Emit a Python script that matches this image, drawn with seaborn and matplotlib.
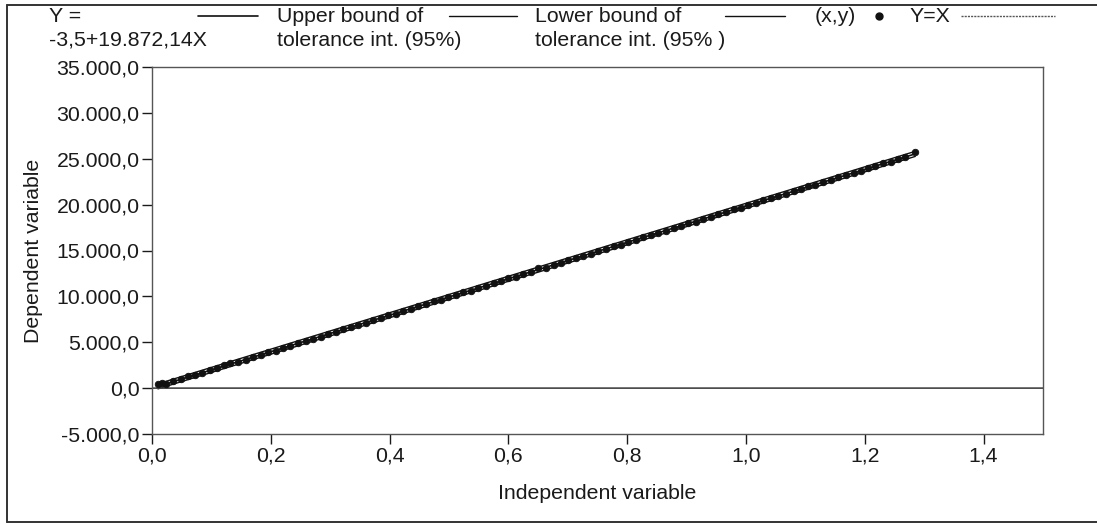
import matplotlib
matplotlib.use("Agg")
import matplotlib.pyplot as plt
import matplotlib.ticker as mticker
from matplotlib.lines import Line2D
import seaborn as sns
import pandas as pd

# ---------------- data ----------------
x_obs = [0.010, 0.016, 0.023, 0.035, 0.048, 0.061, 0.072, 0.085, 0.097, 0.110,
         0.122, 0.131, 0.145, 0.158, 0.170, 0.183, 0.196, 0.208, 0.221, 0.233,
         0.246, 0.259, 0.271, 0.284, 0.297, 0.309, 0.322, 0.335, 0.347, 0.360,
         0.372, 0.385, 0.398, 0.410, 0.423, 0.436, 0.448, 0.461, 0.474, 0.486,
         0.499, 0.511, 0.524, 0.537, 0.549, 0.562, 0.575, 0.587, 0.600, 0.612,
         0.625, 0.638, 0.650, 0.663, 0.676, 0.688, 0.701, 0.713, 0.726, 0.739,
         0.751, 0.764, 0.777, 0.789, 0.802, 0.814, 0.827, 0.840, 0.852, 0.865,
         0.878, 0.890, 0.903, 0.915, 0.928, 0.941, 0.953, 0.966, 0.979, 0.991,
         1.004, 1.016, 1.029, 1.042, 1.054, 1.067, 1.080, 1.092, 1.105, 1.117,
         1.130, 1.143, 1.155, 1.168, 1.181, 1.193, 1.206, 1.218, 1.231, 1.244,
         1.256, 1.268, 1.285]
y_obs = [480, 520, 430, 740, 1010, 1330, 1400, 1650, 1960, 2150,
         2480, 2790, 2860, 3110, 3400, 3600, 3930, 4100, 4420, 4600,
         4950, 5110, 5400, 5610, 5930, 6110, 6420, 6620, 6930, 7120,
         7420, 7610, 7940, 8120, 8440, 8630, 8930, 9120, 9450, 9630,
         9950, 10120, 10440, 10640, 10940, 11130, 11460, 11630, 11960, 12130,
         12450, 12640, 13050, 13140, 13460, 13640, 13960, 14140, 14450, 14650,
         14960, 15150, 15470, 15650, 15970, 16150, 16460, 16660, 16960, 17160,
         17470, 17660, 17970, 18150, 18470, 18670, 18960, 19170, 19480, 19660,
         19980, 20160, 20470, 20680, 20970, 21180, 21490, 21670, 21980, 22170,
         22480, 22690, 22970, 23190, 23490, 23680, 23990, 24180, 24490, 24700,
         24980, 25170, 25700]

fit_x = [0.010, 1.285]
fit_y = [195.2, 25532.2]          # Y = -3,5 + 19.872,14 X
upper_y = [470.0, 25810.0]        # upper bound of tolerance interval (95%)
lower_y = [-80.0, 25255.0]        # lower bound of tolerance interval (95%)
idx_x = [0.0, 1.5]                # Y = X reference line
idx_y = [0.0, 1.5]

legend_labels = ["Y =\n-3,5+19.872,14X",
                 "Upper bound of\ntolerance int. (95%)",
                 "Lower bound of\ntolerance int. (95% )",
                 "(x,y)",
                 "Y=X"]
x_ticks = [0.0, 0.2, 0.4, 0.6, 0.8, 1.0, 1.2, 1.4]
y_ticks = [-5000, 0, 5000, 10000, 15000, 20000, 25000, 30000, 35000]

# ---------------- style ----------------
sns.set_theme(style="white")
plt.rcParams["font.family"] = ["Liberation Sans", "DejaVu Sans"]
plt.rcParams["text.color"] = "#1a1a1a"
plt.rcParams["axes.labelcolor"] = "#1a1a1a"
plt.rcParams["xtick.color"] = "#1a1a1a"
plt.rcParams["ytick.color"] = "#1a1a1a"

FS = 15.3
W, H = 1097, 524
fig = plt.figure(figsize=(W / 100, H / 100), dpi=100)
ax = fig.add_axes([152 / W, 1 - 434 / H, (1043 - 152) / W, (434 - 67) / H])

df_obs = pd.DataFrame({"x": x_obs, "y": y_obs})
df_fit = pd.DataFrame({"x": fit_x, "fit": fit_y, "up": upper_y, "lo": lower_y})
df_idx = pd.DataFrame({"x": idx_x, "y": idx_y})

ink = "#111111"
fit_style = dict(color=ink, lw=1.2)
bound_style = dict(color=ink, lw=1.0)
idx_style = dict(color="#444444", lw=1.2, linestyle="-")

sns.lineplot(data=df_fit, x="x", y="fit", ax=ax, legend=False, **fit_style)
sns.lineplot(data=df_fit, x="x", y="up", ax=ax, legend=False, **bound_style)
sns.lineplot(data=df_fit, x="x", y="lo", ax=ax, legend=False, **bound_style)
sns.scatterplot(data=df_obs, x="x", y="y", ax=ax, color=ink, s=22, marker="o",
                edgecolor=ink, linewidth=0.6, legend=False, zorder=5)
sns.lineplot(data=df_idx, x="x", y="y", ax=ax, legend=False, **idx_style)

ax.set_xlim(0, 1.5)
ax.set_ylim(-5000, 35000)
ax.set_xticks(x_ticks)
ax.set_yticks(y_ticks)
ax.xaxis.set_major_formatter(mticker.FuncFormatter(lambda v, p: f"{v:.1f}".replace(".", ",")))
ax.yaxis.set_major_formatter(mticker.FuncFormatter(
    lambda v, p: f"{v:,.1f}".replace(",", "X").replace(".", ",").replace("X", ".")))
ax.tick_params(axis="both", which="major", direction="out", length=7, width=1.0,
               labelsize=FS, left=True, bottom=True, pad=2)
for s in ax.spines.values():
    s.set_color("#555555")
    s.set_linewidth(1.0)
ax.set_xlabel("Independent variable", fontsize=FS, labelpad=13)
ax.set_ylabel("Dependent variable", fontsize=FS, labelpad=10)

# ---------------- legend laid out like the original (label, then sample) ----------------
def fx(px):
    return px / W

def fy(py):
    return 1 - py / H

text_x = [49, 277, 535, 815, 909]
sample_x = [(198, 258), (449, 517), (725, 785), None, (961, 1055)]
sample_styles = [fit_style, bound_style, bound_style, None,
                 dict(color="#555555", lw=1.0, linestyle=(0, (1.5, 0.8)))]
row_y = 16
for lab, tx, sx, st in zip(legend_labels, text_x, sample_x, sample_styles):
    fig.text(fx(tx), fy(7), lab, ha="left", va="top", fontsize=FS, linespacing=1.3)
    if sx is not None:
        fig.add_artist(Line2D([fx(sx[0]), fx(sx[1])], [fy(row_y), fy(row_y)],
                              transform=fig.transFigure, **st))
fig.add_artist(Line2D([fx(879)], [fy(row_y)], transform=fig.transFigure, marker="o",
                      markersize=5, color=ink, linestyle="none"))

# open outer frame of the original figure (left, top, bottom)
border = dict(transform=fig.transFigure, color="#333333", lw=1.4)
fig.add_artist(Line2D([fx(7), fx(7)], [fy(522), fy(5)], **border))
fig.add_artist(Line2D([fx(7), 1.0], [fy(5), fy(5)], **border))
fig.add_artist(Line2D([fx(7), 1.0], [fy(522), fy(522)], **border))

fig.savefig("out.png", dpi=100)
